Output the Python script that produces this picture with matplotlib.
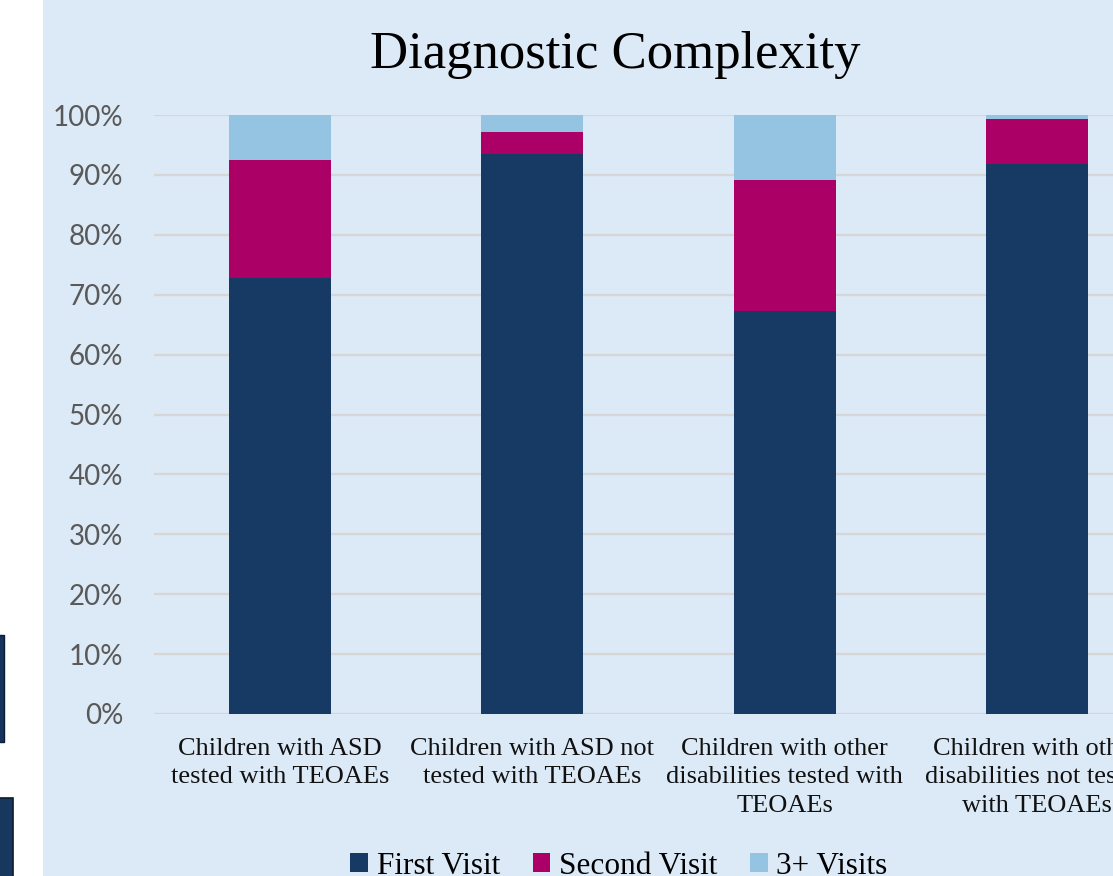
import matplotlib
matplotlib.use("Agg")
import matplotlib.pyplot as plt
from matplotlib.patches import Rectangle, Patch
import numpy as np

# Data (share of children, %)
categories = [
    "Children with ASD\ntested with TEOAEs",
    "Children with ASD not\ntested with TEOAEs",
    "Children with other\ndisabilities tested with\nTEOAEs",
    "Children with other\ndisabilities not tested\nwith TEOAEs",
]
first_visit = [72.8, 93.5, 67.2, 91.9]
second_visit = [19.7, 3.7, 21.9, 7.5]
third_plus = [7.5, 2.8, 10.9, 0.6]
series_names = ["First Visit", "Second Visit", "3+ Visits"]
yticks = [0, 10, 20, 30, 40, 50, 60, 70, 80, 90, 100]

colors = ["#173A64", "#AB0066", "#94C4E2"]
panel_bg = "#DCE9F6"
W, H = 1113, 876

fig = plt.figure(figsize=(W / 100, H / 100), dpi=100)
fig.patch.set_facecolor("white")

# Chart panel background and neighbouring slide shapes at the left edge
fig.add_artist(Rectangle((43 / W, 0), 1.0, 1.0, transform=fig.transFigure,
                         facecolor=panel_bg, edgecolor="none", zorder=0))
fig.add_artist(Rectangle((-2 / W, (876 - 742) / H), 6 / W, 107 / H,
                         transform=fig.transFigure, facecolor="#15335C",
                         edgecolor="#0B1B33", linewidth=1.0, zorder=1))
fig.add_artist(Rectangle((-2 / W, (876 - 880) / H), 14.5 / W, 82 / H,
                         transform=fig.transFigure, facecolor="#17375F",
                         edgecolor="#0B1B33", linewidth=1.2, zorder=1))

# Plot area extends past the right edge of the figure
left = 154 / W
right = 1163 / W
bottom = (H - 714) / H
top = (H - 115) / H
ax = fig.add_axes([left, bottom, right - left, top - bottom])
ax.set_facecolor("none")

x = np.arange(len(categories))
bw = 0.405
first = np.array(first_visit)
second = np.array(second_visit)
third = np.array(third_plus)
ax.bar(x, first, bw, color=colors[0], zorder=3, label=series_names[0])
ax.bar(x, second, bw, bottom=first, color=colors[1], zorder=3, label=series_names[1])
ax.bar(x, third, bw, bottom=first + second, color=colors[2], zorder=3, label=series_names[2])

ax.set_xlim(-0.5, len(categories) - 0.5)
ax.set_ylim(0, 100)
ax.set_yticks(yticks)
ax.set_yticklabels([f"{v}%" for v in yticks], family="Lato", fontsize=20, color="#595959")
ax.tick_params(axis="y", length=0, pad=22)
ax.grid(axis="y", color="#D6D6D6", linewidth=1.6, zorder=0)
ax.set_axisbelow(True)

ax.set_xticks(x)
ax.set_xticklabels(categories, family="Liberation Serif", fontsize=19, color="#111111",
                   linespacing=1.39)
ax.tick_params(axis="x", length=0, pad=17)
for s in ax.spines.values():
    s.set_visible(False)

fig.text(615 / W, (H - 68) / H, "Diagnostic Complexity", family="Liberation Serif",
         fontsize=38, ha="center", va="baseline", color="black")

handles = [Patch(facecolor=c, edgecolor="none") for c in colors]
fig.legend(handles, series_names, loc="center", bbox_to_anchor=(619 / W, 10 / H),
           ncol=3, frameon=False, prop={"family": "Liberation Serif", "size": 22.5},
           handlelength=0.56, handleheight=0.56, handletextpad=0.28,
           columnspacing=1.05, borderpad=0, borderaxespad=0)

fig.savefig("out.png", dpi=100, facecolor=fig.get_facecolor())
